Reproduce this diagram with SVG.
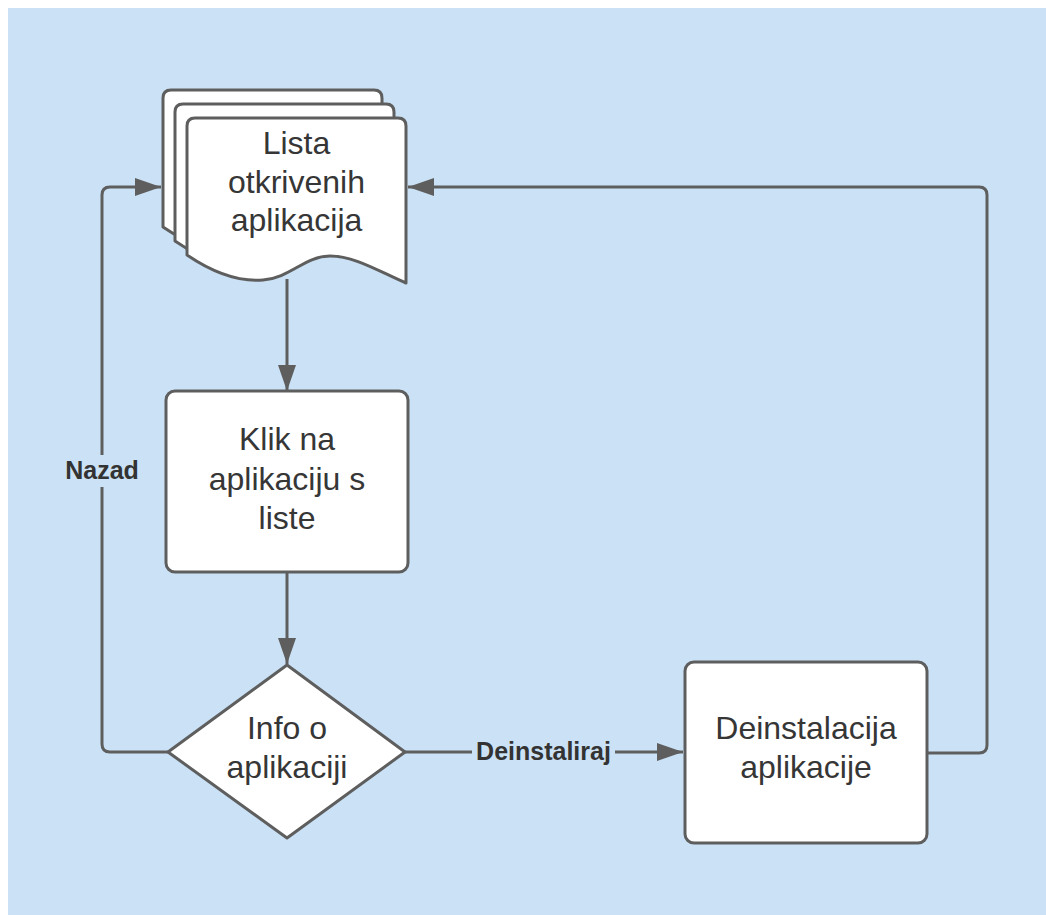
<svg xmlns="http://www.w3.org/2000/svg" width="1046" height="915" viewBox="0 0 1046 915">
<defs>
<style>
.node{fill:#ffffff;stroke:#5e5e5e;stroke-width:3;stroke-linejoin:round}
.edge{fill:none;stroke:#5e5e5e;stroke-width:3;stroke-linejoin:round}
.t{font-family:"Liberation Sans",Arial,sans-serif;font-size:32px;fill:#363636;text-anchor:middle}
.lbl{font-family:"Liberation Sans",Arial,sans-serif;font-size:25px;font-weight:bold;fill:#333333;text-anchor:middle}
.lblbg{fill:#cbe2f6}
</style>
<marker id="arr" viewBox="0 0 26 18" refX="26" refY="9" markerWidth="26" markerHeight="18" markerUnits="userSpaceOnUse" orient="auto">
<path d="M0,0 L26,9 L0,18 Z" fill="#5e5e5e"/>
</marker>
<path id="doc" d="M187,126 Q187,118 195,118 L398,118 Q406,118 406,126 L406,283 C380,272 355,256 330,256 C305,256 290,278 263,280 C238,282 212,272 187,255 Z"/>
</defs>
<rect x="8" y="8" width="1038" height="907" fill="#cbe2f6"/>

<g id="connectors">
<path class="edge" d="M287,279 L287,391" marker-end="url(#arr)"/>
<path class="edge" d="M287,573 L287,664" marker-end="url(#arr)"/>
<path class="edge" d="M405,752 L683,752" marker-end="url(#arr)"/>
<path class="edge" d="M168,752 L110,752 Q102,752 102,744 L102,195 Q102,187 110,187 L161,187" marker-end="url(#arr)"/>
<path class="edge" d="M927,753 L979,753 Q987,753 987,745 L987,195 Q987,187 979,187 L408,187" marker-end="url(#arr)"/>
<rect class="lblbg" x="472" y="738" width="143" height="28"/>
<text class="lbl" x="543.5" y="760">Deinstaliraj</text>
<rect class="lblbg" x="60" y="455" width="84" height="32"/>
<text class="lbl" x="102" y="479">Nazad</text>
</g>

<g id="lista">
<use href="#doc" class="node" transform="translate(-24,-28)"/>
<use href="#doc" class="node" transform="translate(-12,-14)"/>
<use href="#doc" class="node"/>
<text class="t" x="296.5" y="154">Lista</text>
<text class="t" x="296.5" y="193">otkrivenih</text>
<text class="t" x="296.5" y="231">aplikacija</text>
</g>

<g id="klik">
<rect class="node" x="166" y="391" width="242" height="181" rx="9"/>
<text class="t" x="287" y="450">Klik na</text>
<text class="t" x="287" y="490">aplikaciju s</text>
<text class="t" x="287" y="529">liste</text>
</g>

<g id="info">
<path class="node" d="M287,665 L405,752 L287,838 L168,752 Z"/>
<text class="t" x="287" y="739">Info o</text>
<text class="t" x="287" y="778">aplikaciji</text>
</g>

<g id="deinstalacija">
<rect class="node" x="685" y="662" width="242" height="181" rx="9"/>
<text class="t" x="806" y="739">Deinstalacija</text>
<text class="t" x="806" y="778">aplikacije</text>
</g>
</svg>
